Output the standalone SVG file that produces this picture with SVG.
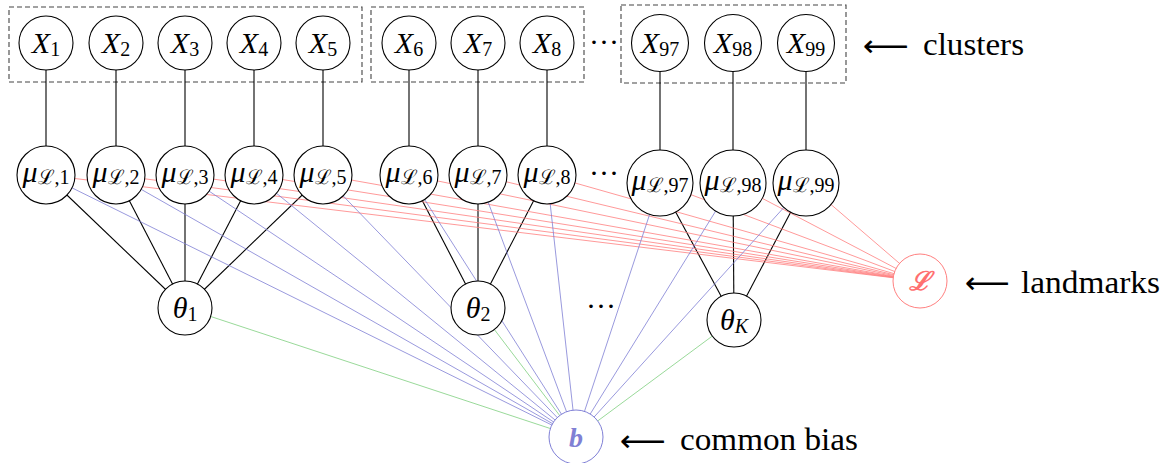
<svg xmlns="http://www.w3.org/2000/svg" width="1172" height="463" viewBox="0 0 1172 463">
<style>
.nd{fill:#fff;stroke:#000;stroke-width:1.1}
.ndL{fill:#fff;stroke:#ff8080;stroke-width:1}
.ndB{fill:#fff;stroke:#8080d6;stroke-width:1}
.k{stroke:#000;stroke-width:1.1}
.r{stroke:#ff7f7f;stroke-width:0.8}
.bl{stroke:#7f7fd4;stroke-width:0.8}
.g{stroke:#7fcf7f;stroke-width:0.8}
.box{fill:none;stroke:#444;stroke-width:1.1;stroke-dasharray:5 3}
.t{font-family:'Liberation Serif',serif;font-size:30px;text-anchor:middle;fill:#000}
.it{font-style:italic}
.sub{font-style:normal;font-size:20px}
.subi{font-style:italic;font-size:20px}
.lab{font-family:'Liberation Serif',serif;font-size:31px;fill:#000}
.arr{font-family:'DejaVu Sans',sans-serif;font-size:30px;fill:#000}
</style>
<g id="clusters">
<rect class="box" x="9" y="7" width="353" height="75"/>
<rect class="box" x="371" y="7" width="213" height="75"/>
<rect class="box" x="621" y="5" width="225" height="78"/>
</g>
<g id="connectors">
<g id="x-mu">
<line class="k" x1="46" y1="43" x2="46" y2="175"/>
<line class="k" x1="116" y1="43" x2="116" y2="175"/>
<line class="k" x1="185" y1="43" x2="185" y2="175"/>
<line class="k" x1="254" y1="43" x2="254" y2="175"/>
<line class="k" x1="323" y1="43" x2="323" y2="175"/>
<line class="k" x1="409" y1="43" x2="409" y2="175"/>
<line class="k" x1="478" y1="43" x2="478" y2="175"/>
<line class="k" x1="547" y1="43" x2="547" y2="175"/>
<line class="k" x1="660" y1="43" x2="660" y2="183"/>
<line class="k" x1="733" y1="43" x2="733" y2="183"/>
<line class="k" x1="806" y1="43" x2="806" y2="183"/>
</g>
<g id="mu-theta">
<line class="k" x1="46" y1="175" x2="185" y2="308"/>
<line class="k" x1="116" y1="175" x2="185" y2="308"/>
<line class="k" x1="185" y1="175" x2="185" y2="308"/>
<line class="k" x1="254" y1="175" x2="185" y2="308"/>
<line class="k" x1="323" y1="175" x2="185" y2="308"/>
<line class="k" x1="409" y1="175" x2="478" y2="308"/>
<line class="k" x1="478" y1="175" x2="478" y2="308"/>
<line class="k" x1="547" y1="175" x2="478" y2="308"/>
<line class="k" x1="660" y1="183" x2="734" y2="320"/>
<line class="k" x1="733" y1="183" x2="734" y2="320"/>
<line class="k" x1="806" y1="183" x2="734" y2="320"/>
</g>
<g id="mu-L">
<line class="r" x1="46" y1="175" x2="920" y2="281"/>
<line class="r" x1="116" y1="175" x2="920" y2="281"/>
<line class="r" x1="185" y1="175" x2="920" y2="281"/>
<line class="r" x1="254" y1="175" x2="920" y2="281"/>
<line class="r" x1="323" y1="175" x2="920" y2="281"/>
<line class="r" x1="409" y1="175" x2="920" y2="281"/>
<line class="r" x1="478" y1="175" x2="920" y2="281"/>
<line class="r" x1="547" y1="175" x2="920" y2="281"/>
<line class="r" x1="660" y1="183" x2="920" y2="281"/>
<line class="r" x1="733" y1="183" x2="920" y2="281"/>
<line class="r" x1="806" y1="183" x2="920" y2="281"/>
</g>
<g id="mu-b">
<line class="bl" x1="46" y1="175" x2="576" y2="437"/>
<line class="bl" x1="116" y1="175" x2="576" y2="437"/>
<line class="bl" x1="185" y1="175" x2="576" y2="437"/>
<line class="bl" x1="254" y1="175" x2="576" y2="437"/>
<line class="bl" x1="323" y1="175" x2="576" y2="437"/>
<line class="bl" x1="409" y1="175" x2="576" y2="437"/>
<line class="bl" x1="478" y1="175" x2="576" y2="437"/>
<line class="bl" x1="547" y1="175" x2="576" y2="437"/>
<line class="bl" x1="660" y1="183" x2="576" y2="437"/>
<line class="bl" x1="733" y1="183" x2="576" y2="437"/>
<line class="bl" x1="806" y1="183" x2="576" y2="437"/>
</g>
<g id="theta-b">
<line class="g" x1="185" y1="308" x2="576" y2="437"/>
<line class="g" x1="478" y1="308" x2="576" y2="437"/>
<line class="g" x1="734" y1="320" x2="576" y2="437"/>
</g>
</g>
<g id="X1"><circle class="nd" cx="46" cy="43" r="27"/><text class="t" x="46" y="53"><tspan class="it">X</tspan><tspan class="sub" dy="3">1</tspan></text></g>
<g id="X2"><circle class="nd" cx="116" cy="43" r="27"/><text class="t" x="116" y="53"><tspan class="it">X</tspan><tspan class="sub" dy="3">2</tspan></text></g>
<g id="X3"><circle class="nd" cx="185" cy="43" r="27"/><text class="t" x="185" y="53"><tspan class="it">X</tspan><tspan class="sub" dy="3">3</tspan></text></g>
<g id="X4"><circle class="nd" cx="254" cy="43" r="27"/><text class="t" x="254" y="53"><tspan class="it">X</tspan><tspan class="sub" dy="3">4</tspan></text></g>
<g id="X5"><circle class="nd" cx="323" cy="43" r="27"/><text class="t" x="323" y="53"><tspan class="it">X</tspan><tspan class="sub" dy="3">5</tspan></text></g>
<g id="X6"><circle class="nd" cx="409" cy="43" r="27"/><text class="t" x="409" y="53"><tspan class="it">X</tspan><tspan class="sub" dy="3">6</tspan></text></g>
<g id="X7"><circle class="nd" cx="478" cy="43" r="27"/><text class="t" x="478" y="53"><tspan class="it">X</tspan><tspan class="sub" dy="3">7</tspan></text></g>
<g id="X8"><circle class="nd" cx="547" cy="43" r="27"/><text class="t" x="547" y="53"><tspan class="it">X</tspan><tspan class="sub" dy="3">8</tspan></text></g>
<g id="X97"><circle class="nd" cx="660" cy="43" r="28.5"/><text class="t" x="660" y="53"><tspan class="it">X</tspan><tspan class="sub" dy="3">97</tspan></text></g>
<g id="X98"><circle class="nd" cx="733" cy="43" r="28.5"/><text class="t" x="733" y="53"><tspan class="it">X</tspan><tspan class="sub" dy="3">98</tspan></text></g>
<g id="X99"><circle class="nd" cx="806" cy="43" r="28.5"/><text class="t" x="806" y="53"><tspan class="it">X</tspan><tspan class="sub" dy="3">99</tspan></text></g>
<text class="t" x="604" y="52">···</text>
<g id="mu1"><circle class="nd" cx="46" cy="175" r="29"/><text class="t" x="46" y="182"><tspan class="it">μ</tspan><tspan class="sub" dy="2">ℒ,1</tspan></text></g>
<g id="mu2"><circle class="nd" cx="116" cy="175" r="29"/><text class="t" x="116" y="182"><tspan class="it">μ</tspan><tspan class="sub" dy="2">ℒ,2</tspan></text></g>
<g id="mu3"><circle class="nd" cx="185" cy="175" r="29"/><text class="t" x="185" y="182"><tspan class="it">μ</tspan><tspan class="sub" dy="2">ℒ,3</tspan></text></g>
<g id="mu4"><circle class="nd" cx="254" cy="175" r="29"/><text class="t" x="254" y="182"><tspan class="it">μ</tspan><tspan class="sub" dy="2">ℒ,4</tspan></text></g>
<g id="mu5"><circle class="nd" cx="323" cy="175" r="29"/><text class="t" x="323" y="182"><tspan class="it">μ</tspan><tspan class="sub" dy="2">ℒ,5</tspan></text></g>
<g id="mu6"><circle class="nd" cx="409" cy="175" r="29"/><text class="t" x="409" y="182"><tspan class="it">μ</tspan><tspan class="sub" dy="2">ℒ,6</tspan></text></g>
<g id="mu7"><circle class="nd" cx="478" cy="175" r="29"/><text class="t" x="478" y="182"><tspan class="it">μ</tspan><tspan class="sub" dy="2">ℒ,7</tspan></text></g>
<g id="mu8"><circle class="nd" cx="547" cy="175" r="29"/><text class="t" x="547" y="182"><tspan class="it">μ</tspan><tspan class="sub" dy="2">ℒ,8</tspan></text></g>
<g id="mu97"><circle class="nd" cx="660" cy="183" r="33"/><text class="t" x="660" y="190"><tspan class="it">μ</tspan><tspan class="sub" dy="2">ℒ,97</tspan></text></g>
<g id="mu98"><circle class="nd" cx="733" cy="183" r="33"/><text class="t" x="733" y="190"><tspan class="it">μ</tspan><tspan class="sub" dy="2">ℒ,98</tspan></text></g>
<g id="mu99"><circle class="nd" cx="806" cy="183" r="33"/><text class="t" x="806" y="190"><tspan class="it">μ</tspan><tspan class="sub" dy="2">ℒ,99</tspan></text></g>
<text class="t" x="604" y="183">···</text>
<g id="theta1"><circle class="nd" cx="185" cy="308" r="27"/><text class="t" x="185" y="318"><tspan class="it">θ</tspan><tspan class="sub" dy="3">1</tspan></text></g>
<g id="theta2"><circle class="nd" cx="478" cy="308" r="27"/><text class="t" x="478" y="318"><tspan class="it">θ</tspan><tspan class="sub" dy="3">2</tspan></text></g>
<g id="thetaK"><circle class="nd" cx="734" cy="320" r="27"/><text class="t" x="734" y="330"><tspan class="it">θ</tspan><tspan class="subi" dy="3">K</tspan></text></g>
<text class="t" x="601" y="316">···</text>
<g id="L"><circle class="ndL" cx="920" cy="281" r="27"/><text class="t it" x="920" y="290" style="fill:#ff7070;font-size:26px;font-weight:bold">ℒ</text></g>
<g id="b"><circle class="ndB" cx="576" cy="437" r="27"/><text class="t it" x="576" y="447" style="fill:#8080d4;font-weight:bold;font-size:28px">b</text></g>
<g id="labels">
<text class="arr" x="863" y="56" textLength="46" lengthAdjust="spacingAndGlyphs">⟵</text>
<text class="lab" x="923" y="55" textLength="101" lengthAdjust="spacingAndGlyphs">clusters</text>
<text class="arr" x="965" y="293" textLength="45" lengthAdjust="spacingAndGlyphs">⟵</text>
<text class="lab" x="1021" y="293" textLength="139" lengthAdjust="spacingAndGlyphs">landmarks</text>
<text class="arr" x="620" y="451" textLength="46" lengthAdjust="spacingAndGlyphs">⟵</text>
<text class="lab" x="680" y="450" textLength="178" lengthAdjust="spacingAndGlyphs">common bias</text>
</g>
</svg>
